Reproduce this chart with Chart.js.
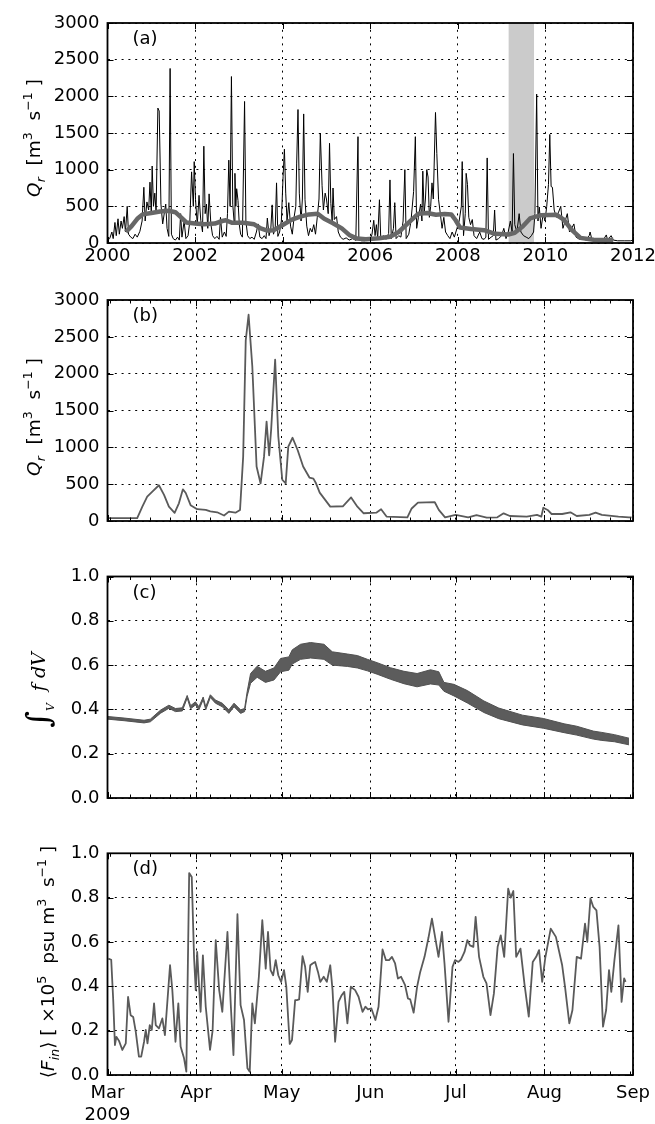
<!DOCTYPE html>
<html><head><meta charset="utf-8">
<script src="https://cdn.jsdelivr.net/npm/chart.js@4.4.0/dist/chart.umd.min.js"></script>
<style>
html,body{margin:0;padding:0;background:#fff;width:655px;height:1124px;overflow:hidden;}
canvas{position:absolute;left:0;}
</style></head><body>
<canvas id="ca" width="655" height="280" style="top:0px"></canvas>
<canvas id="cb" width="655" height="276" style="top:280px"></canvas>
<canvas id="cc" width="655" height="277" style="top:556px"></canvas>
<canvas id="cd" width="655" height="291" style="top:833px"></canvas>
<script>
// ---------- DATA ----------
// (a) river discharge 2000-2012: [decimal year, m3/s]
const qDaily = [
[2000.00,40],[2000.05,60],[2000.10,150],[2000.13,60],[2000.17,280],[2000.20,100],[2000.24,330],[2000.27,120],[2000.31,300],[2000.34,200],[2000.38,360],[2000.41,150],[2000.45,500],[2000.48,120],[2000.53,80],[2000.58,60],[2000.63,120],[2000.68,80],[2000.74,160],[2000.79,300],[2000.83,760],[2000.86,300],[2000.90,560],[2000.94,450],[2000.97,830],[2001.00,400],[2001.02,1050],[2001.05,500],[2001.08,680],[2001.11,420],[2001.15,1840],[2001.18,1800],[2001.22,530],[2001.26,260],[2001.30,420],[2001.33,530],[2001.36,200],[2001.40,90],[2001.43,2380],[2001.46,120],[2001.50,60],[2001.55,40],[2001.60,80],[2001.64,40],[2001.67,400],[2001.70,80],[2001.75,300],[2001.79,60],[2001.84,100],[2001.88,300],[2001.92,970],[2001.96,500],[2001.98,1110],[2002.01,590],[2002.05,250],[2002.09,650],[2002.13,310],[2002.17,150],[2002.20,1320],[2002.23,400],[2002.26,530],[2002.29,200],[2002.32,670],[2002.36,260],[2002.40,100],[2002.45,60],[2002.50,90],[2002.55,50],[2002.58,350],[2002.62,80],[2002.67,150],[2002.71,90],[2002.74,400],[2002.77,1130],[2002.80,500],[2002.83,2270],[2002.86,530],[2002.89,300],[2002.91,950],[2002.93,500],[2002.95,740],[2002.98,580],[2003.01,250],[2003.04,120],[2003.08,80],[2003.13,1930],[2003.16,300],[2003.20,100],[2003.25,60],[2003.30,80],[2003.35,50],[2003.40,150],[2003.44,260],[2003.48,80],[2003.53,60],[2003.58,100],[2003.62,60],[2003.65,340],[2003.69,100],[2003.73,200],[2003.76,520],[2003.79,120],[2003.83,200],[2003.86,820],[2003.89,90],[2003.93,150],[2003.97,300],[2004.01,910],[2004.04,1280],[2004.07,680],[2004.10,300],[2004.14,550],[2004.18,230],[2004.22,120],[2004.26,350],[2004.30,500],[2004.32,1090],[2004.35,1820],[2004.38,680],[2004.42,300],[2004.45,600],[2004.48,1760],[2004.51,590],[2004.55,230],[2004.59,100],[2004.63,200],[2004.67,150],[2004.71,250],[2004.75,120],[2004.79,350],[2004.83,600],[2004.86,1500],[2004.90,780],[2004.93,450],[2004.97,680],[2005.00,600],[2005.04,400],[2005.07,1360],[2005.10,540],[2005.13,300],[2005.15,750],[2005.18,320],[2005.23,360],[2005.27,150],[2005.32,80],[2005.38,50],[2005.45,70],[2005.52,40],[2005.60,60],[2005.67,35],[2005.72,1450],[2005.74,40],[2005.80,30],[2005.88,30],[2005.95,50],[2006.00,40],[2006.04,120],[2006.08,310],[2006.11,100],[2006.14,250],[2006.17,60],[2006.21,590],[2006.24,60],[2006.30,100],[2006.36,50],[2006.42,130],[2006.45,860],[2006.48,60],[2006.53,200],[2006.56,550],[2006.59,60],[2006.65,100],[2006.70,80],[2006.75,300],[2006.79,1000],[2006.82,60],[2006.88,120],[2006.93,300],[2006.99,700],[2007.03,1450],[2007.06,200],[2007.10,350],[2007.15,530],[2007.18,300],[2007.20,980],[2007.23,400],[2007.26,600],[2007.29,1000],[2007.32,900],[2007.35,350],[2007.38,500],[2007.41,820],[2007.44,600],[2007.49,1780],[2007.52,1220],[2007.56,590],[2007.60,400],[2007.64,200],[2007.68,350],[2007.72,150],[2007.77,100],[2007.82,60],[2007.87,150],[2007.92,80],[2007.98,200],[2008.03,300],[2008.08,500],[2008.10,1110],[2008.13,100],[2008.17,400],[2008.19,950],[2008.22,800],[2008.25,350],[2008.29,250],[2008.33,320],[2008.37,100],[2008.43,60],[2008.50,150],[2008.55,60],[2008.60,50],[2008.64,80],[2008.67,1160],[2008.70,50],[2008.76,80],[2008.81,100],[2008.84,450],[2008.87,40],[2008.93,60],[2009.00,100],[2009.05,200],[2009.10,60],[2009.15,150],[2009.20,300],[2009.24,150],[2009.27,1220],[2009.30,250],[2009.35,150],[2009.40,400],[2009.44,150],[2009.50,100],[2009.56,80],[2009.62,60],[2009.68,100],[2009.73,150],[2009.76,400],[2009.80,2030],[2009.83,300],[2009.86,490],[2009.90,200],[2009.95,400],[2009.99,300],[2010.03,500],[2010.07,800],[2010.10,1480],[2010.13,770],[2010.16,760],[2010.20,450],[2010.25,350],[2010.30,420],[2010.35,500],[2010.40,200],[2010.45,300],[2010.50,400],[2010.55,150],[2010.60,200],[2010.65,260],[2010.70,80],[2010.78,50],[2010.85,60],[2010.92,40],[2011.00,100],[2011.02,150],[2011.06,50],[2011.15,40],[2011.25,60],[2011.32,40],[2011.39,110],[2011.42,40],[2011.50,100],[2011.55,40],[2011.65,30],[2011.80,30],[2011.95,30],[2012.00,40]
];
// (a) smoothed discharge (thick grey)
const qSmooth = [
[2000.42,150],[2000.55,230],[2000.68,330],[2000.80,390],[2001.00,410],[2001.20,430],[2001.40,440],[2001.55,420],[2001.68,350],[2001.80,280],[2002.00,265],[2002.20,255],[2002.45,265],[2002.62,300],[2002.70,310],[2002.85,275],[2003.10,275],[2003.35,255],[2003.50,200],[2003.65,170],[2003.80,175],[2004.00,245],[2004.20,315],[2004.40,360],[2004.60,390],[2004.80,400],[2004.95,330],[2005.15,270],[2005.35,200],[2005.52,110],[2005.70,60],[2005.90,50],[2006.20,65],[2006.45,85],[2006.65,150],[2006.90,290],[2007.10,400],[2007.30,410],[2007.50,385],[2007.70,395],[2007.85,390],[2007.95,310],[2008.05,210],[2008.30,190],[2008.60,175],[2008.85,125],[2009.15,115],[2009.30,140],[2009.48,225],[2009.65,335],[2009.90,380],[2010.25,385],[2010.42,320],[2010.60,180],[2010.80,70],[2011.10,45],[2011.55,40]
];
const shadeYears = [2009.16, 2009.74];
const yearTicks = [2000, 2002, 2004, 2006, 2008, 2010, 2012];
const yearLabels = ['2000', '2002', '2004', '2006', '2008', '2010', '2012'];

// (b)-(d) x axis: days since 1 Mar 2009
const monthDays = [0, 31, 61, 92, 122, 153, 184];
const monthLabels = [['Mar', '2009'], 'Apr', 'May', 'Jun', 'Jul', 'Aug', 'Sep'];
const mondayDays = [1, 8, 15, 22, 29, 36, 43, 50, 57, 64, 71, 78, 85, 92, 99, 106, 113, 120, 127, 134, 141, 148, 155, 162, 169, 176, 183];

// (b) discharge Mar-Sep 2009: [day, m3/s]
const qSeason = [
[0,40],[10.4,40],[12.2,195],[13.9,330],[15.7,400],[18.0,485],[19.8,355],[21.5,195],[23.5,110],[25.0,240],[26.4,430],[27.4,380],[29.1,215],[31.4,160],[34.4,150],[36.0,130],[38.4,118],[40.8,75],[42.5,127],[44.8,113],[46.4,150],[47.5,870],[48.4,2450],[49.4,2800],[50.7,2100],[52.2,740],[53.6,510],[54.8,870],[55.7,1350],[56.6,890],[57.3,1240],[58.7,2190],[59.8,1150],[61.2,560],[62.4,510],[63.3,1010],[64.8,1130],[66.6,960],[68.5,740],[70.7,590],[72.1,575],[72.9,520],[74.3,385],[78.0,195],[82.4,200],[85.3,320],[87.5,195],[89.7,105],[94.1,113],[95.8,160],[97.7,60],[105.0,50],[106.5,170],[108.7,250],[114.6,255],[116.0,150],[118.2,50],[121.9,82],[126.3,50],[129.2,80],[132.8,45],[136.5,50],[138.7,104],[140.9,68],[146.8,60],[150.4,82],[151.9,60],[152.6,180],[154.1,150],[155.5,95],[159.2,95],[162.1,118],[164.3,68],[168.7,82],[170.9,113],[173.1,82],[178.9,60],[182.6,50],[183.5,50]
];

// (c) volume integral: tidal oscillation envelope [day, low, high]
const fEnvelope = [
[0,0.356,0.368],[5.8,0.349,0.361],[12.8,0.339,0.351],[15,0.344,0.356],[18.6,0.383,0.397],[21.5,0.405,0.419],[23.8,0.390,0.404],[26.2,0.393,0.407],[27.9,0.451,0.463],[29.1,0.403,0.417],[30.8,0.420,0.434],[32.0,0.398,0.412],[33.5,0.444,0.456],[34.4,0.398,0.412],[36.0,0.454,0.466],[37.8,0.428,0.442],[40.2,0.412,0.428],[42.5,0.382,0.398],[44.3,0.412,0.428],[46.6,0.382,0.398],[48.0,0.390,0.404],[48.9,0.460,0.480],[50.1,0.518,0.562],[52.4,0.545,0.595],[55.3,0.522,0.572],[58.3,0.533,0.587],[60.6,0.570,0.630],[63.5,0.577,0.637],[64.7,0.605,0.669],[67.6,0.626,0.694],[71.1,0.632,0.702],[75.8,0.626,0.694],[78.7,0.600,0.660],[84.0,0.594,0.650],[87.5,0.587,0.643],[91.0,0.574,0.626],[94.4,0.559,0.611],[99.1,0.536,0.588],[103.8,0.516,0.572],[108.4,0.502,0.562],[113.1,0.515,0.579],[116.0,0.510,0.570],[117.8,0.482,0.522],[121.3,0.461,0.513],[126.0,0.429,0.485],[131.8,0.386,0.438],[137.0,0.358,0.406],[145.3,0.330,0.374],[152.6,0.315,0.359],[159.9,0.295,0.335],[164.3,0.284,0.324],[170.1,0.266,0.302],[173.1,0.260,0.296],[177.5,0.254,0.286],[182.6,0.240,0.270]
];

// (d) salt flux <F_in> (x1e5): [day, value]
const fluxIn = [
[0.3,0.525],[1.3,0.52],[2.0,0.338],[2.6,0.135],[3.1,0.172],[4.0,0.155],[5.2,0.113],[6.4,0.143],[7.2,0.352],[8.1,0.27],[9.0,0.262],[9.9,0.195],[11.0,0.083],[11.8,0.083],[12.8,0.15],[13.4,0.203],[14.0,0.143],[14.8,0.225],[15.5,0.203],[16.3,0.323],[16.9,0.225],[18.0,0.21],[19.2,0.255],[20.1,0.18],[21.9,0.495],[22.7,0.383],[23.8,0.15],[24.8,0.323],[25.6,0.128],[26.8,0.075],[27.6,0.015],[28.6,0.911],[29.5,0.893],[30.3,0.532],[30.9,0.383],[31.4,0.555],[32.0,0.413],[32.6,0.285],[33.4,0.54],[34.4,0.308],[35.9,0.113],[36.8,0.2],[37.9,0.608],[39.1,0.383],[40.2,0.285],[42.0,0.645],[43.2,0.308],[44.1,0.09],[45.5,0.725],[46.6,0.315],[47.8,0.248],[49.0,0.03],[49.8,0.015],[50.7,0.323],[51.6,0.233],[53.0,0.443],[54.2,0.698],[55.4,0.48],[56.2,0.645],[57.1,0.473],[58.0,0.45],[58.9,0.518],[59.8,0.45],[60.8,0.42],[61.8,0.473],[62.6,0.4],[63.8,0.14],[64.6,0.158],[65.7,0.338],[66.3,0.338],[67.1,0.341],[68.3,0.536],[69.2,0.488],[70.1,0.375],[71.0,0.495],[71.8,0.503],[72.7,0.51],[73.7,0.465],[74.5,0.42],[75.7,0.443],[76.8,0.42],[78.0,0.495],[78.8,0.383],[79.7,0.15],[80.9,0.33],[82.0,0.36],[82.9,0.375],[84.0,0.233],[85.2,0.398],[86.7,0.383],[87.9,0.353],[89.3,0.285],[90.3,0.308],[91.2,0.296],[92.4,0.3],[93.8,0.248],[94.9,0.308],[96.3,0.566],[97.5,0.518],[98.6,0.518],[99.6,0.533],[100.7,0.503],[101.7,0.435],[102.8,0.443],[104.2,0.405],[105.2,0.345],[106.0,0.341],[107.2,0.281],[108.4,0.398],[109.5,0.465],[111.0,0.533],[112.4,0.62],[113.6,0.705],[114.8,0.615],[115.9,0.533],[117.1,0.645],[118.0,0.503],[119.4,0.24],[120.8,0.488],[121.7,0.518],[122.9,0.51],[123.8,0.521],[125.0,0.555],[126.0,0.608],[126.9,0.585],[128.1,0.578],[128.9,0.713],[130.1,0.533],[131.6,0.443],[132.7,0.413],[134.1,0.27],[135.3,0.368],[136.6,0.578],[137.7,0.63],[138.9,0.533],[140.3,0.84],[141.2,0.8],[142.1,0.83],[143.1,0.533],[144.6,0.57],[146.0,0.41],[147.5,0.263],[148.9,0.51],[150.1,0.533],[151.1,0.563],[152.2,0.42],[153.3,0.53],[155.2,0.66],[157.0,0.623],[159.2,0.495],[160.2,0.398],[161.7,0.233],[162.8,0.293],[164.3,0.533],[165.8,0.525],[167.2,0.683],[168.0,0.6],[169.1,0.796],[170.1,0.758],[171.2,0.743],[172.3,0.578],[173.5,0.218],[174.6,0.293],[175.6,0.473],[176.4,0.375],[177.5,0.518],[178.9,0.675],[180.0,0.33],[180.9,0.436],[181.4,0.42]
];

// ---------- RENDERING ----------
const SANS = "'DejaVu Sans', sans-serif";
const SERIF = "'DejaVu Serif', serif";
Chart.defaults.font.family = SANS;
Chart.defaults.font.size = 18;
Chart.defaults.color = '#000';

const pts = (arr, k) => arr.map(r => ({x: r[0], y: r[k || 1]}));

function drawRich(ctx, segs, cx, cy) {
  ctx.save();
  ctx.translate(cx, cy);
  ctx.rotate(-Math.PI / 2);
  ctx.textBaseline = 'alphabetic';
  ctx.textAlign = 'left';
  ctx.fillStyle = '#000';
  const fonts = segs.map(s => {
    const size = (s.size || 18.5) * ((s.sub || s.sup) ? 0.68 : 1);
    return (s.it ? 'italic ' : '') + size + 'px ' + (s.serif ? SERIF : SANS);
  });
  let w = 0;
  segs.forEach((s, i) => { ctx.font = fonts[i]; w += ctx.measureText(s.t).width; });
  let xx = -w / 2;
  segs.forEach((s, i) => {
    ctx.font = fonts[i];
    const dy = s.sub ? (s.subOff || 5) : s.sup ? -8 : (s.off || 0);
    ctx.fillText(s.t, xx, 6.5 + dy);
    xx += ctx.measureText(s.t).width;
  });
  ctx.restore();
}

const deco = {
  id: 'deco',
  beforeDatasetsDraw(chart, args, o) {
    if (o.band) {
      const {ctx, chartArea: a, scales: {x}} = chart;
      const x1 = x.getPixelForValue(o.band[0]), x2 = x.getPixelForValue(o.band[1]);
      ctx.save();
      ctx.fillStyle = '#cbcbcb';
      ctx.fillRect(x1, a.top, x2 - x1, a.bottom - a.top);
      ctx.restore();
    }
  },
  afterDraw(chart, args, o) {
    const {ctx, chartArea: a, scales: {x, y}} = chart;
    ctx.save();
    ctx.strokeStyle = '#000';
    ctx.lineWidth = 1;
    const seg = (x1, y1, x2, y2) => { ctx.beginPath(); ctx.moveTo(x1, y1); ctx.lineTo(x2, y2); ctx.stroke(); };
    x.ticks.forEach(t => {
      const px = Math.round(x.getPixelForValue(t.value)) + 0.5;
      seg(px, a.bottom, px, a.bottom - 6); seg(px, a.top, px, a.top + 6);
    });
    (o.minor || []).forEach(v => {
      const px = Math.round(x.getPixelForValue(v)) + 0.5;
      seg(px, a.bottom, px, a.bottom - 3.5); seg(px, a.top, px, a.top + 3.5);
    });
    y.ticks.forEach(t => {
      const py = Math.round(y.getPixelForValue(t.value)) + 0.5;
      seg(a.left, py, a.left + 6, py); seg(a.right, py, a.right - 6, py);
    });
    ctx.lineWidth = 1.8;
    ctx.strokeRect(a.left, a.top, a.right - a.left, a.bottom - a.top);
    ctx.fillStyle = '#000';
    ctx.font = '18px ' + SANS;
    ctx.textBaseline = 'middle';
    ctx.textAlign = 'left';
    ctx.fillText(o.label, a.left + 25, a.top + 16.5);
    drawRich(ctx, o.title, o.titleX, o.titleY - chart.canvas.offsetTop);
    ctx.restore();
  }
};

function panel(id, P) {
  const canvasTop = P.canvasTop, H = P.canvasH;
  new Chart(document.getElementById(id), {
    type: 'line',
    data: {datasets: P.datasets},
    options: {
      responsive: false,
      animation: false,
      events: [],
      layout: {padding: {top: P.top - canvasTop, right: 22, left: 0, bottom: 0}},
      elements: {point: {radius: 0}, line: {tension: 0, borderJoinStyle: 'round'}},
      plugins: {legend: {display: false}, tooltip: {enabled: false}, deco: P.deco},
      scales: {
        x: {
          type: 'linear', min: P.xMin, max: P.xMax,
          afterBuildTicks: s => { s.ticks = P.xTicks.map(v => ({value: v})); },
          ticks: {display: P.showX, autoSkip: false, maxRotation: 0, padding: P.xPad || 4,
                  callback: (v, i) => P.xLabels[i]},
          grid: {color: '#000', lineWidth: 1, drawTicks: false},
          border: {display: false, dash: [2, 4.8]},
          afterFit: s => { s.height = H - (P.bottom - canvasTop); s.paddingLeft = 0; s.paddingRight = 0; }
        },
        y: {
          type: 'linear', min: 0, max: P.yMax,
          ticks: {stepSize: P.yStep, padding: 8, callback: P.yFmt},
          grid: {color: '#000', lineWidth: 1, drawTicks: false},
          border: {display: false, dash: [2, 4.8]},
          afterFit: s => { s.width = 107.5; s.paddingTop = 0; s.paddingBottom = 0; }
        }
      }
    },
    plugins: [deco]
  });
}

const qTitle = [{t: 'Q', it: true}, {t: 'r', it: true, sub: true}, {t: '  [m'}, {t: '3', sup: true}, {t: '  s'}, {t: '\u22121', sup: true}, {t: ' ]'}];

panel('ca', {
  canvasTop: 0, canvasH: 280, top: 23, bottom: 243,
  xMin: 2000, xMax: 2012, xTicks: yearTicks, xLabels: yearLabels, showX: true, xPad: 3,
  yMax: 3000, yStep: 500, yFmt: v => String(v),
  datasets: [
    {data: pts(qSmooth), borderColor: '#676767', borderWidth: 4.5},
    {data: pts(qDaily), borderColor: '#000', borderWidth: 1}
  ],
  deco: {label: '(a)', band: shadeYears, title: qTitle, titleX: 33, titleY: 138}
});

panel('cb', {
  canvasTop: 280, canvasH: 276, top: 300, bottom: 521,
  xMin: 0, xMax: 184, xTicks: monthDays, xLabels: monthLabels, showX: false,
  yMax: 3000, yStep: 500, yFmt: v => String(v),
  datasets: [{data: pts(qSeason), borderColor: '#5a5a5a', borderWidth: 1.8}],
  deco: {label: '(b)', minor: mondayDays, title: qTitle, titleX: 33, titleY: 417}
});

panel('cc', {
  canvasTop: 556, canvasH: 277, top: 576.5, bottom: 798,
  xMin: 0, xMax: 184, xTicks: monthDays, xLabels: monthLabels, showX: false,
  yMax: 1, yStep: 0.2, yFmt: v => v.toFixed(1),
  datasets: [
    {data: pts(fEnvelope, 1), borderColor: '#525252', borderWidth: 1, fill: false},
    {data: pts(fEnvelope, 2), borderColor: '#525252', borderWidth: 1, fill: '-1', backgroundColor: '#5c5c5c'}
  ],
  deco: {label: '(c)', minor: mondayDays,
         title: [{t: '\u222B', serif: true, size: 32, off: 4}, {t: 'V', serif: true, it: true, sub: true, size: 16, subOff: 9}, {t: '  f d', serif: true, it: true, size: 19}, {t: 'V', serif: true, it: true, size: 19}],
         titleX: 38, titleY: 690}
});

panel('cd', {
  canvasTop: 833, canvasH: 291, top: 853.3, bottom: 1075,
  xMin: 0, xMax: 184, xTicks: monthDays, xLabels: monthLabels, showX: true, xPad: 8,
  yMax: 1, yStep: 0.2, yFmt: v => v.toFixed(1),
  datasets: [{data: pts(fluxIn), borderColor: '#5a5a5a', borderWidth: 1.8}],
  deco: {label: '(d)', minor: mondayDays,
         title: [{t: '\u27E8'}, {t: 'F', it: true}, {t: 'in', it: true, sub: true}, {t: '\u27E9'}, {t: ' [ \u00D710'}, {t: '5', sup: true}, {t: '  psu m'}, {t: '3', sup: true}, {t: '  s'}, {t: '\u22121', sup: true}, {t: ' ]'}],
         titleX: 47, titleY: 962}
});
</script>
</body></html>
